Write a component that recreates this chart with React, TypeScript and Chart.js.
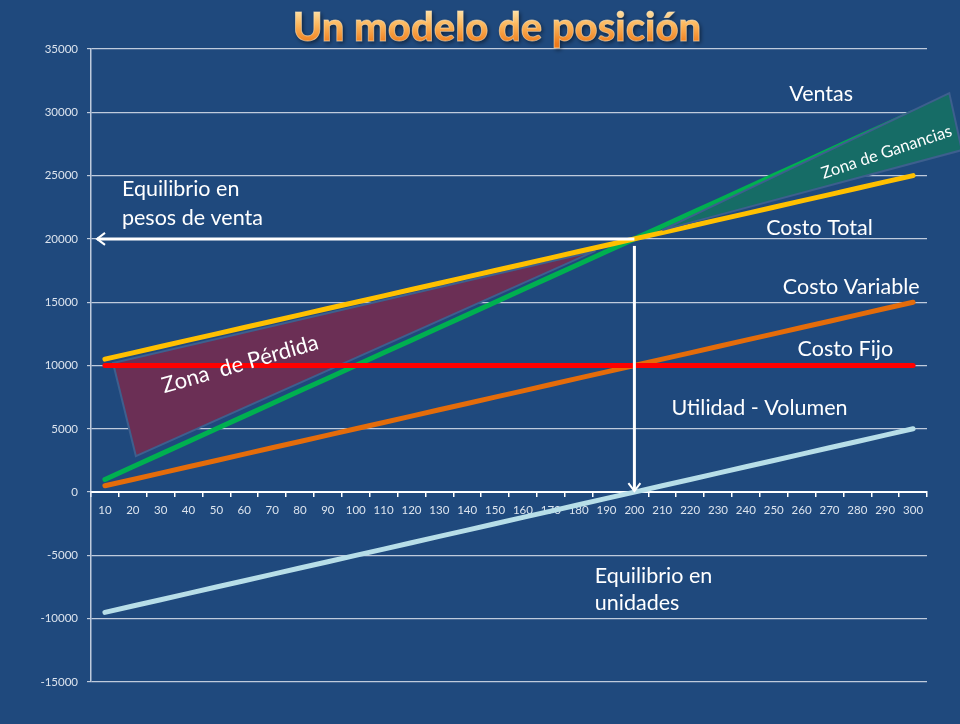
import React, { useEffect, useRef } from "react";
import { Chart, registerables } from "chart.js";

Chart.register(...registerables);

const titleText = "Un modelo de posición";

const units = [10, 20, 30, 40, 50, 60, 70, 80, 90, 100, 110, 120, 130, 140, 150, 160, 170, 180, 190, 200, 210, 220, 230, 240, 250, 260, 270, 280, 290, 300];

const ventas = [1000, 2000, 3000, 4000, 5000, 6000, 7000, 8000, 9000, 10000, 11000, 12000, 13000, 14000, 15000, 16000, 17000, 18000, 19000, 20000, 21000, 22000, 23000, 24000, 25000, 26000, 27000, 28000, 29000, 30000];
const costoTotal = [10500, 11000, 11500, 12000, 12500, 13000, 13500, 14000, 14500, 15000, 15500, 16000, 16500, 17000, 17500, 18000, 18500, 19000, 19500, 20000, 20500, 21000, 21500, 22000, 22500, 23000, 23500, 24000, 24500, 25000];
const costoVariable = [500, 1000, 1500, 2000, 2500, 3000, 3500, 4000, 4500, 5000, 5500, 6000, 6500, 7000, 7500, 8000, 8500, 9000, 9500, 10000, 10500, 11000, 11500, 12000, 12500, 13000, 13500, 14000, 14500, 15000];
const costoFijo = [10000, 10000, 10000, 10000, 10000, 10000, 10000, 10000, 10000, 10000, 10000, 10000, 10000, 10000, 10000, 10000, 10000, 10000, 10000, 10000, 10000, 10000, 10000, 10000, 10000, 10000, 10000, 10000, 10000, 10000];
const utilidad = [-9500, -9000, -8500, -8000, -7500, -7000, -6500, -6000, -5500, -5000, -4500, -4000, -3500, -3000, -2500, -2000, -1500, -1000, -500, 0, 500, 1000, 1500, 2000, 2500, 3000, 3500, 4000, 4500, 5000];

const yMin = -15000;
const yMax = 35000;
const yStep = 5000;

// zone polygons in data units (units, pesos)
const lossZone = [
  { x: 12.9, y: 10190 },
  { x: 21.1, y: 2844 },
  { x: 186, y: 19050 },
];
const profitZone = [
  { x: 210, y: 20695 },
  { x: 313, y: 31517 },
  { x: 317.5, y: 27014 },
];

// break-even point
const breakEvenUnits = 200;
const breakEvenPesos = 20000;

const seriesNames = ["Ventas", "Costo Total", "Costo Variable", "Costo Fijo", "Utilidad - Volumen"];
const seriesLabelAt = [
  { x: 267, y: 31440 },
  { x: 266.4, y: 20853 },
  { x: 277.8, y: 16193 },
  { x: 275.7, y: 11295 },
  { x: 244.9, y: 6635 },
];

const notePesos = ["Equilibrio en", "pesos de venta"];
const notePesosAt = [{ x: 16.1, y: 23934 }, { x: 16.1, y: 21643 }];
const noteUnidades = ["Equilibrio en", "unidades"];
const noteUnidadesAt = [{ x: 185.8, y: -6635 }, { x: 185.8, y: -8768 }];

const lossLabel = "Zona  de Pérdida";
const lossLabelAt = { x: 58.5, y: 10100 };
const profitLabel = "Zona de Ganancias";
const profitLabelAt = { x: 290.5, y: 26850 };

const FONT = "Lato, 'Open Sans', sans-serif";

function xPix(chart: any, u: number) {
  return chart.scales.x.getPixelForValue((u - units[0]) / (units[1] - units[0]));
}
function yPix(chart: any, v: number) {
  return chart.scales.y.getPixelForValue(v);
}

function drawPoly(chart: any, pts: { x: number; y: number }[], fill: string) {
  const ctx = chart.ctx;
  ctx.save();
  ctx.beginPath();
  pts.forEach((p, i) => {
    const X = xPix(chart, p.x);
    const Y = yPix(chart, p.y);
    if (i === 0) ctx.moveTo(X, Y);
    else ctx.lineTo(X, Y);
  });
  ctx.closePath();
  ctx.fillStyle = fill;
  ctx.fill();
  ctx.lineWidth = 2;
  ctx.strokeStyle = "#3D5F8E";
  ctx.stroke();
  ctx.restore();
}

const decorPlugin = {
  id: "decor",
  beforeDraw(chart: any) {
    const ctx = chart.ctx;
    ctx.save();
    ctx.fillStyle = "#1F497D";
    ctx.fillRect(0, 0, chart.width, chart.height);
    ctx.restore();
  },
  beforeDatasetsDraw(chart: any) {
    drawPoly(chart, lossZone, "#6B2F55");
  },
  afterDatasetsDraw(chart: any) {
    const ctx = chart.ctx;
    drawPoly(chart, profitZone, "#166C66");

    // arrows
    const bx = xPix(chart, breakEvenUnits);
    const by = yPix(chart, breakEvenPesos);
    const leftX = chart.chartArea.left + 6;
    ctx.save();
    ctx.strokeStyle = "#FFFFFF";
    ctx.lineWidth = 3;
    ctx.lineCap = "butt";
    ctx.beginPath();
    ctx.moveTo(bx, by);
    ctx.lineTo(leftX, by);
    ctx.stroke();
    ctx.lineWidth = 2;
    ctx.beginPath();
    ctx.moveTo(leftX + 8, by - 6);
    ctx.lineTo(leftX, by);
    ctx.lineTo(leftX + 8, by + 6);
    ctx.stroke();

    const y0 = yPix(chart, 0);
    ctx.lineWidth = 3;
    ctx.beginPath();
    ctx.moveTo(bx, by + 7);
    ctx.lineTo(bx, y0 - 1);
    ctx.stroke();
    ctx.lineWidth = 2;
    ctx.beginPath();
    ctx.moveTo(bx - 6, y0 - 9);
    ctx.lineTo(bx, y0 - 1);
    ctx.lineTo(bx + 6, y0 - 9);
    ctx.stroke();
    ctx.restore();

    // labels
    ctx.save();
    ctx.fillStyle = "#FFFFFF";
    ctx.font = `21.5px ${FONT}`;
    ctx.textBaseline = "middle";
    ctx.textAlign = "center";
    seriesNames.forEach((t, i) => {
      ctx.fillText(t, xPix(chart, seriesLabelAt[i].x), yPix(chart, seriesLabelAt[i].y));
    });
    ctx.textAlign = "left";
    notePesos.forEach((t, i) => {
      ctx.fillText(t, xPix(chart, notePesosAt[i].x), yPix(chart, notePesosAt[i].y));
    });
    noteUnidades.forEach((t, i) => {
      ctx.fillText(t, xPix(chart, noteUnidadesAt[i].x), yPix(chart, noteUnidadesAt[i].y));
    });
    ctx.textAlign = "center";
    ctx.save();
    ctx.translate(xPix(chart, lossLabelAt.x), yPix(chart, lossLabelAt.y));
    ctx.rotate((-16 * Math.PI) / 180);
    ctx.font = `22px ${FONT}`;
    ctx.fillText(lossLabel, 0, 0);
    ctx.restore();
    ctx.save();
    ctx.translate(xPix(chart, profitLabelAt.x), yPix(chart, profitLabelAt.y));
    ctx.rotate((-18.5 * Math.PI) / 180);
    ctx.font = `16.5px ${FONT}`;
    ctx.fillText(profitLabel, 0, 0);
    ctx.restore();

    // title
    const cx = 497;
    ctx.font = `900 40px ${FONT}`;
    ctx.textAlign = "center";
    ctx.textBaseline = "alphabetic";
    const grad = ctx.createLinearGradient(0, 10, 0, 44);
    grad.addColorStop(0, "#FFE3A8");
    grad.addColorStop(0.45, "#FBB55A");
    grad.addColorStop(1, "#EE7A1A");
    ctx.shadowColor = "rgba(0,0,0,0.55)";
    ctx.shadowBlur = 4;
    ctx.shadowOffsetX = 1.5;
    ctx.shadowOffsetY = 2;
    ctx.fillStyle = grad;
    ctx.fillText(titleText, cx, 41);
    ctx.shadowColor = "transparent";
    ctx.lineWidth = 0.8;
    ctx.strokeStyle = "rgba(255,230,190,0.6)";
    ctx.strokeText(titleText, cx, 41);
    ctx.restore();
  },
};

export default function App() {
  const ref = useRef<HTMLCanvasElement | null>(null);

  useEffect(() => {
    document.body.style.margin = "0";
    document.body.style.background = "#1F497D";
    const canvas = ref.current;
    if (!canvas) return;
    const line = (label: string, data: number[], color: string) => ({
      label,
      data,
      borderColor: color,
      backgroundColor: color,
      borderWidth: 5,
      borderCapStyle: "round" as const,
      pointRadius: 0,
      tension: 0,
      fill: false,
    });
    const chart = new Chart(canvas, {
      type: "line",
      data: {
        labels: units.map(String),
        datasets: [
          line("Costo Total", costoTotal, "#FFC000"),
          line("Costo Fijo", costoFijo, "#FF0000"),
          line("Ventas", ventas, "#00B050"),
          line("Costo Variable", costoVariable, "#E46C0A"),
          line("Utilidad - Volumen", utilidad, "#B7DEE8"),
        ],
      },
      options: {
        animation: false,
        responsive: false,
        maintainAspectRatio: false,
        layout: { padding: { left: 0, top: 49, right: 33, bottom: 42 } },
        plugins: {
          legend: { display: false },
          tooltip: { enabled: false },
          title: { display: false },
        },
        scales: {
          x: {
            type: "category",
            offset: true,
            position: { y: 0 },
            afterFit: (s: any) => {
              s.height = 0;
            },
            grid: {
              offset: true,
              drawOnChartArea: false,
              drawTicks: true,
              tickLength: 4,
              color: "#FFFFFF",
              lineWidth: 1.5,
            },
            border: { display: true, color: "#FFFFFF", width: 2 },
            ticks: {
              color: "#DCE4EE",
              font: { family: FONT, size: 11.5 },
              padding: 7,
              maxRotation: 0,
              autoSkip: false,
            },
          },
          y: {
            min: yMin,
            max: yMax,
            afterFit: (s: any) => {
              s.width = 91;
            },
            grid: {
              color: "rgba(220,226,236,0.85)",
              lineWidth: 1.2,
              tickLength: 4,
            },
            border: { display: true, color: "rgba(220,226,236,0.85)", width: 1.5 },
            ticks: {
              stepSize: yStep,
              color: "#DCE4EE",
              font: { family: FONT, size: 11.5 },
              padding: 9,
              callback: (v: any) => String(v),
            },
          },
        },
      },
      plugins: [decorPlugin],
    });
    return () => chart.destroy();
  }, []);

  return (
    <div style={{ width: 960, height: 724, background: "#1F497D" }}>
      <canvas ref={ref} width={960} height={724} style={{ display: "block" }} />
    </div>
  );
}
